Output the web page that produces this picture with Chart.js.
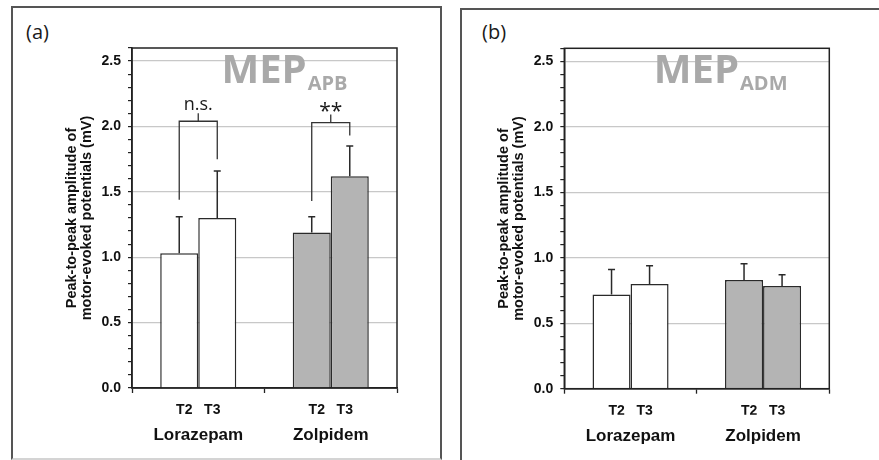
<!DOCTYPE html>
<html>
<head>
<meta charset="utf-8">
<script src="https://cdn.jsdelivr.net/npm/chart.js@4/dist/chart.umd.min.js"></script>
<style>
  html, body { margin: 0; padding: 0; background: #fff; }
  body { width: 879px; height: 460px; overflow: hidden; position: relative; }
  .frame { position: absolute; box-sizing: border-box; border: 2px solid #555; }
  #frameA { left: 11px; top: 6px; width: 431px; height: 454px; border-bottom-color: #d4d4d4; }
  #frameB { left: 460px; top: 8px; width: 440px; height: 470px; }
  .plabel { position: absolute; font: 20px "Open Sans", sans-serif; color: #1a1a1a; line-height: 24px; }
  #labA { left: 26px; top: 20px; }
  #labB { left: 482px; top: 20px; }
  .cw { position: absolute; top: 0; }
  #wrapA { left: 0; width: 440px; height: 460px; }
  #wrapB { left: 440px; width: 439px; height: 460px; }
</style>
</head>
<body>
<div class="frame" id="frameA"></div>
<div class="frame" id="frameB"></div>
<div class="plabel" id="labA">(a)</div>
<div class="plabel" id="labB">(b)</div>
<div class="cw" id="wrapA"><canvas id="chartA" width="440" height="460"></canvas></div>
<div class="cw" id="wrapB"><canvas id="chartB" width="439" height="460"></canvas></div>
<script>
// ---------- data ----------
const categories = ['Lorazepam', 'Zolpidem'];
const sessions = ['T2', 'T3'];
const yAxisTitle = ['Peak-to-peak amplitude of', 'motor-evoked potentials (mV)'];
const yMax = 2.6;
const yStep = 0.1;
const yLabelStep = 0.5;

// Panel (a): MEP APB
const apbT2 = [1.03, 1.19];
const apbT3 = [1.30, 1.62];
const apbT2Sd = [0.28, 0.12];
const apbT3Sd = [0.36, 0.23];
const apbSigLabels = ['n.s.', '**'];
const apbSigLeftBase = [1.44, 1.43];
const apbSigRightBase = [1.75, 1.93];
const apbSigTop = [2.04, 2.03];

// Panel (b): MEP ADM
const admT2 = [0.72, 0.83];
const admT3 = [0.80, 0.785];
const admT2Sd = [0.19, 0.125];
const admT3Sd = [0.14, 0.085];

const groupColors = ['#ffffff', '#b4b4b4'];

// ---------- chart ----------
Chart.defaults.font.family = '"Liberation Sans", Arial, sans-serif';
Chart.defaults.color = '#111';

function isMajor(v) {
  const r = v / yLabelStep;
  return Math.abs(r - Math.round(r)) < 1e-6;
}

function makePanel(canvasId, t2, t3, sd2, sd3, muscle, sig, pad) {
  const decor = {
    id: 'decor',
    afterDatasetsDraw(chart) {
      const c = chart.ctx, a = chart.chartArea, ys = chart.scales.y;
      c.save();
      // error bars (upper only)
      c.strokeStyle = '#2a2a2a';
      c.lineWidth = 1.5;
      chart.data.datasets.forEach((ds, di) => {
        const meta = chart.getDatasetMeta(di);
        meta.data.forEach((el, i) => {
          const top = ys.getPixelForValue(ds.data[i] + ds.sd[i]);
          c.beginPath();
          c.moveTo(el.x, el.y);
          c.lineTo(el.x, top);
          c.moveTo(el.x - 3.5, top);
          c.lineTo(el.x + 3.5, top);
          c.stroke();
        });
      });
      // significance brackets
      if (sig) {
        const m0 = chart.getDatasetMeta(0), m1 = chart.getDatasetMeta(1);
        c.lineWidth = 1.3;
        c.strokeStyle = '#333';
        sig.labels.forEach((lab, i) => {
          const xl = m0.data[i].x, xr = m1.data[i].x, xm = (xl + xr) / 2;
          const yt = ys.getPixelForValue(sig.top[i]);
          const yl = ys.getPixelForValue(sig.left[i]);
          const yr = ys.getPixelForValue(sig.right[i]);
          c.beginPath();
          c.moveTo(xl, yl); c.lineTo(xl, yt); c.lineTo(xr, yt); c.lineTo(xr, yr);
          c.moveTo(xm, yt); c.lineTo(xm, yt - 8);
          c.stroke();
          c.font = (lab === '**' ? '21px' : '18px') + ' "Open Sans", sans-serif';
          c.fillStyle = '#1a1a1a';
          c.textAlign = 'center';
          c.textBaseline = 'alphabetic';
          const m = c.measureText(lab);
          const center = yt - 8 - 8;
          const base = center + (m.actualBoundingBoxAscent - m.actualBoundingBoxDescent) / 2;
          c.fillText(lab, xm, base);
        });
      }
      // MEP title with subscript
      c.fillStyle = '#a9a9a9';
      c.textAlign = 'left';
      c.textBaseline = 'alphabetic';
      c.font = 'bold 40px "Open Sans", sans-serif';
      const x0 = a.left + 89.5;
      c.fillText('MEP', x0, a.top + 34.5);
      const w = c.measureText('MEP').width;
      c.font = 'bold 20px "Open Sans", sans-serif';
      c.fillText(muscle, x0 + w + 1, a.top + 41.5);
      // plot box
      c.strokeStyle = '#222';
      c.lineWidth = 1.5;
      c.strokeRect(a.left, a.top, a.width, a.height);
      c.restore();
    }
  };

  return new Chart(document.getElementById(canvasId), {
    type: 'bar',
    data: {
      labels: categories,
      datasets: [
        { label: sessions[0], data: t2, sd: sd2, backgroundColor: groupColors, borderColor: '#2a2a2a', borderWidth: 1.5 },
        { label: sessions[1], data: t3, sd: sd3, backgroundColor: groupColors, borderColor: '#2a2a2a', borderWidth: 1.5 }
      ]
    },
    options: {
      responsive: false,
      animation: false,
      events: [],
      layout: { padding: pad },
      datasets: { bar: { categoryPercentage: 0.574, barPercentage: 1.0 } },
      plugins: { legend: { display: false }, tooltip: { enabled: false } },
      scales: {
        x: {
          type: 'category',
          position: 'bottom',
          weight: 0,
          offset: true,
          grid: { offset: true, drawOnChartArea: false, tickLength: 5, tickColor: '#222', tickWidth: 1.3 },
          border: { color: '#222', width: 1.5 },
          ticks: {
            padding: 9,
            font: { size: 14, weight: 'bold' },
            color: '#111',
            callback: () => sessions.join('   ')
          },
          afterFit: s => { s.height = 26; }
        },
        x2: {
          type: 'category',
          position: 'bottom',
          weight: 1,
          offset: true,
          grid: { display: false, drawTicks: false },
          border: { display: false },
          ticks: { padding: 11, font: { size: 17, weight: 'bold' }, color: '#111' },
          afterFit: s => { s.height = 40; }
        },
        y: {
          min: 0,
          max: yMax,
          grid: {
            color: ctx => (ctx.tick && ctx.tick.value > 0 && isMajor(ctx.tick.value)) ? '#c8c8c8' : 'rgba(0,0,0,0)',
            lineWidth: 1.2,
            tickColor: '#222',
            tickLength: 4,
            tickWidth: 1.2
          },
          border: { color: '#222', width: 1.5 },
          ticks: {
            stepSize: yStep,
            autoSkip: false,
            padding: 7,
            font: { size: 14, weight: 'bold' },
            color: '#111',
            callback: v => isMajor(v) ? Number(v).toFixed(1) : ''
          },
          title: {
            display: true,
            text: yAxisTitle,
            font: { size: 14.5, weight: 'bold', lineHeight: 1.03 },
            color: '#111',
            padding: { top: 4.5, bottom: 0 }
          },
          afterFit: s => { s.width = 72; }
        }
      }
    },
    plugins: [decor]
  });
}

makePanel('chartA', apbT2, apbT3, apbT2Sd, apbT3Sd, 'APB',
  { labels: apbSigLabels, left: apbSigLeftBase, right: apbSigRightBase, top: apbSigTop },
  { left: 60, right: 43, top: 48, bottom: 6 });

makePanel('chartB', admT2, admT3, admT2Sd, admT3Sd, 'ADM', null,
  { left: 52.3, right: 49.7, top: 48.3, bottom: 5.3 });
</script>
</body>
</html>
